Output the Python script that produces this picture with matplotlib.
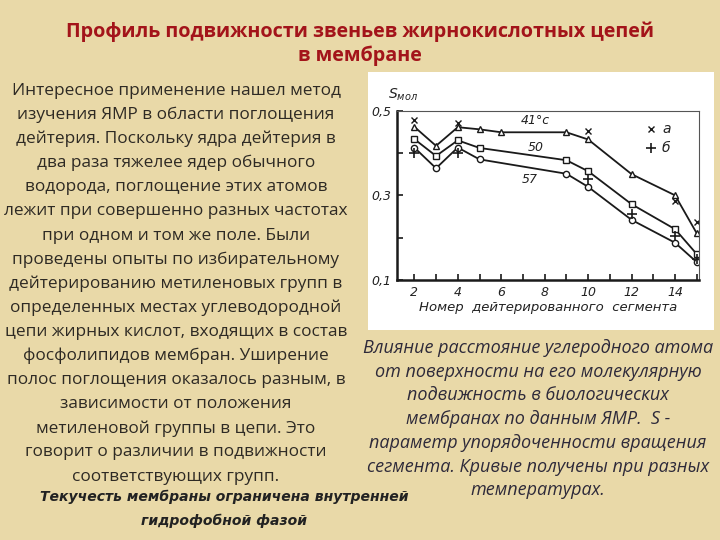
import matplotlib
matplotlib.use("Agg")
import matplotlib.pyplot as plt
from matplotlib.patches import Rectangle

# --- data ---
seg_41 = [2, 3, 4, 5, 6, 9, 10, 12, 14, 15]
s_41 = [0.462, 0.417, 0.461, 0.456, 0.449, 0.449, 0.432, 0.350, 0.300, 0.210]

seg_50 = [2, 3, 4, 5, 9, 10, 12, 14, 15]
s_50 = [0.433, 0.393, 0.430, 0.412, 0.383, 0.357, 0.279, 0.220, 0.161]

seg_57 = [2, 3, 4, 5, 9, 10, 12, 14, 15]
s_57 = [0.413, 0.364, 0.413, 0.385, 0.351, 0.320, 0.242, 0.188, 0.142]

seg_a = [2, 4, 10, 14, 15]
s_a = [0.478, 0.472, 0.453, 0.287, 0.236]

seg_b = [2, 4, 10, 12, 14, 15]
s_b = [0.399, 0.399, 0.339, 0.255, 0.205, 0.149]

x_ticks = list(range(2, 16))
x_labels = ["2", "", "4", "", "6", "", "8", "", "10", "", "12", "", "14", ""]
y_ticks = [0.1, 0.2, 0.3, 0.4, 0.5]
y_labels = ["0,1", "", "0,3", "", "0,5"]

title_lines = ["Профиль подвижности звеньев жирнокислотных цепей",
               "в мембране"]

body_lines = [
    "Интересное применение нашел метод",
    "изучения ЯМР в области поглощения",
    "дейтерия. Поскольку ядра дейтерия в",
    "два раза тяжелее ядер обычного",
    "водорода, поглощение этих атомов",
    "лежит при совершенно разных частотах",
    "при одном и том же поле. Были",
    "проведены опыты по избирательному",
    "дейтерированию метиленовых групп в",
    "определенных местах углеводородной",
    "цепи жирных кислот, входящих в состав",
    "фосфолипидов мембран. Уширение",
    "полос поглощения оказалось разным, в",
    "зависимости от положения",
    "метиленовой группы в цепи. Это",
    "говорит о различии в подвижности",
    "соответствующих групп.",
]

caption_lines = [
    "Влияние расстояние углеродного атома",
    "от поверхности на его молекулярную",
    "подвижность в биологических",
    "мембранах по данным ЯМР.  S -",
    "параметр упорядоченности вращения",
    "сегмента. Кривые получены при разных",
    "температурах.",
]

note_lines = ["Текучесть мембраны ограничена внутренней",
              "гидрофобной фазой"]

bg = "#e9d9a8"
fig = plt.figure(figsize=(7.2, 5.4), dpi=100, facecolor=bg)

# white panel holding the scanned chart (behind the axes)
fig.patches.append(Rectangle((368 / 720, 1 - 330 / 540), 346 / 720, 258 / 540,
                             transform=fig.transFigure, facecolor="white",
                             edgecolor="none", zorder=-5))

# slide texts
for i, line in enumerate(title_lines):
    fig.text(0.5, 1 - (32 + 24 * i) / 540, line, ha="center", va="center",
             fontsize=14.2, fontweight="bold", color="#a3141a", family="Open Sans")

for i, line in enumerate(body_lines):
    fig.text(176 / 720, 1 - (91 + 24.1 * i) / 540, line, ha="center", va="center",
             fontsize=12.4, color="#2e2a24", family="Open Sans")

for i, line in enumerate(caption_lines):
    fig.text(538 / 720, 1 - (348 + 23.7 * i) / 540, line, ha="center", va="center",
             fontsize=13, style="italic", color="#2e2a3a", family="Open Sans")

for i, line in enumerate(note_lines):
    fig.text(224 / 720, 1 - (497 + 24 * i) / 540, line, ha="center", va="center",
             fontsize=10.1, style="italic", fontweight="bold", color="#222222",
             family="DejaVu Sans")

# the chart itself
ax = fig.add_axes([396.7 / 720, 1 - 280 / 540, 302.3 / 720, 169.3 / 540])
ax.set_facecolor("white")

ink = "#1a1a1a"
ax.plot(seg_41, s_41, color=ink, lw=1.3, marker="^", ms=4.5, mfc="white", mec=ink, mew=1)
ax.plot(seg_50, s_50, color=ink, lw=1.3, marker="s", ms=4.5, mfc="white", mec=ink, mew=1)
ax.plot(seg_57, s_57, color=ink, lw=1.3, marker="o", ms=4.5, mfc="white", mec=ink, mew=1)
ax.plot(seg_a, s_a, ls="none", marker="x", ms=5, mec=ink, mew=1)
ax.plot(seg_b, s_b, ls="none", marker="+", ms=7, mec=ink, mew=1.2)

hand = dict(style="italic", color="#222222", family="DejaVu Sans")
ax.text(7.55, 0.476, "41°c", fontsize=9, ha="center", va="center", **hand)
ax.text(7.6, 0.413, "50", fontsize=9, ha="center", va="center", **hand)
ax.text(7.3, 0.338, "57", fontsize=9, ha="center", va="center", **hand)

# legend drawn as in the scan
ax.plot([12.9], [0.456], ls="none", marker="x", ms=4.5, mec=ink, mew=1)
ax.plot([12.9], [0.413], ls="none", marker="+", ms=6.5, mec=ink, mew=1.2)
ax.text(13.4, 0.456, "а", fontsize=10, va="center", **hand)
ax.text(13.4, 0.413, "б", fontsize=10, va="center", **hand)

ax.set_xlim(1.19, 15.1)
ax.set_ylim(0.1, 0.5)
ax.set_xticks(x_ticks)
ax.set_xticklabels(x_labels, fontsize=9, **hand)
ax.set_yticks(y_ticks)
ax.set_yticklabels(y_labels, fontsize=9, **hand)
ax.tick_params(direction="in", length=4, width=1.2, color=ink, pad=4)

for side in ["left", "bottom"]:
    ax.spines[side].set_linewidth(1.8)
    ax.spines[side].set_color(ink)
for side in ["top", "right"]:
    ax.spines[side].set_linewidth(0.8)
    ax.spines[side].set_color("#555555")

ax.set_xlabel("Номер  дейтерированного  сегмента", fontsize=9.5, labelpad=2, **hand)
fig.text(388 / 720, 1 - 95 / 540, "$S_{мол}$", fontsize=10, ha="left", va="center",
         color="#222222")

fig.savefig("out.png", dpi=100, facecolor=bg)
